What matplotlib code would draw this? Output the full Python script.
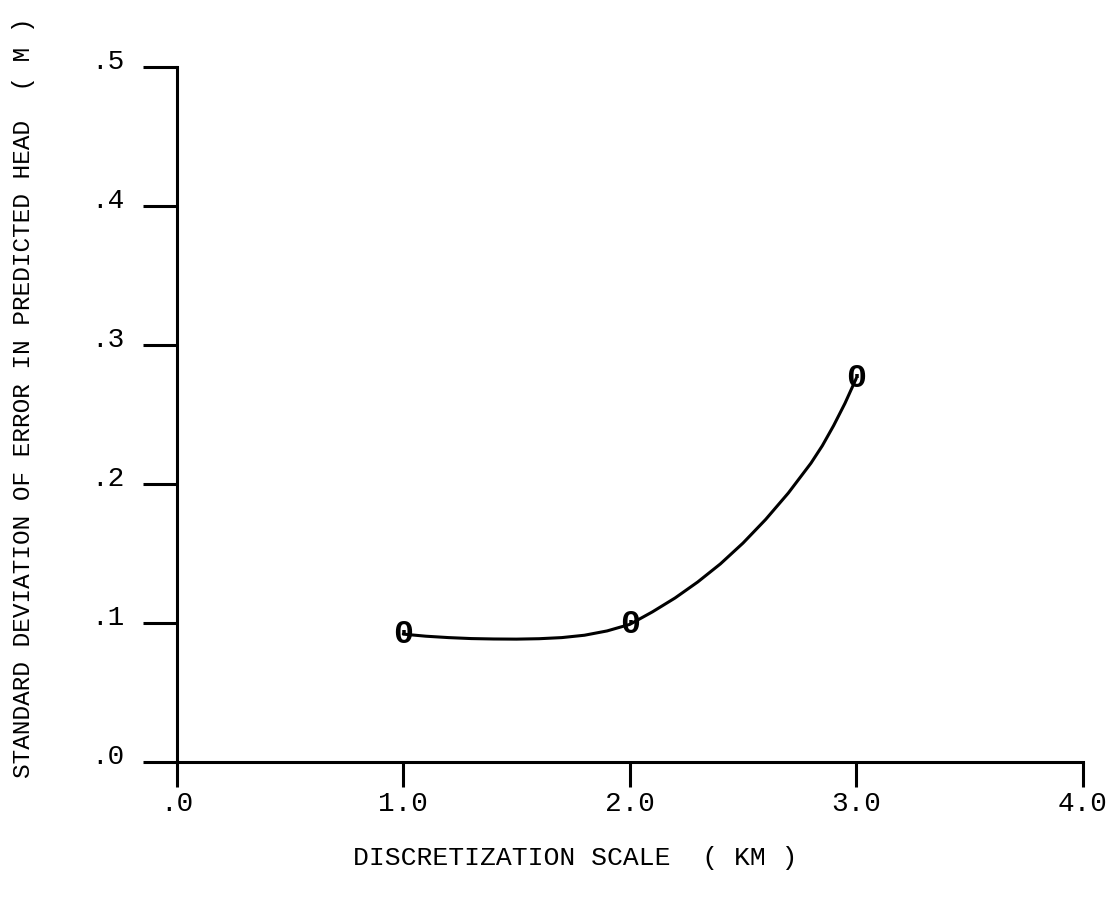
import matplotlib
matplotlib.use("Agg")
import matplotlib.pyplot as plt
import matplotlib.transforms as mtransforms

# discretization scale (km) vs. std. deviation of head error (m)
scale_km = [1.0, 2.0, 3.0]
std_err_m = [0.092, 0.099, 0.276]

# hand-faired curve through the points
curve_x = [1.0, 1.1, 1.2, 1.3, 1.4, 1.5, 1.6, 1.7, 1.8, 1.9, 2.0,
           2.1, 2.2, 2.3, 2.4, 2.5, 2.6, 2.7, 2.8, 2.85, 2.9, 2.95, 3.0]
curve_y = [0.092, 0.0905, 0.0895, 0.0888, 0.0885, 0.0884, 0.0887, 0.0895,
           0.0912, 0.0943, 0.099, 0.1080, 0.1180, 0.1295, 0.1425, 0.1575,
           0.1745, 0.1935, 0.2150, 0.2275, 0.2420, 0.2580, 0.276]

xticks = [0.0, 1.0, 2.0, 3.0, 4.0]
xtick_labels = [".0", "1.0", "2.0", "3.0", "4.0"]
yticks = [0.0, 0.1, 0.2, 0.3, 0.4, 0.5]
ytick_labels = [".0", ".1", ".2", ".3", ".4", ".5"]

FONT = "Liberation Mono"

fig = plt.figure(figsize=(11.06, 8.97), dpi=100)
ax = fig.add_axes([0.1598, 0.1505, 0.8192, 0.7748])

ax.plot(curve_x, curve_y, color="black", lw=2.2, zorder=2,
        solid_joinstyle="round", solid_capstyle="round")
for x, y in zip(scale_km, std_err_m):
    ax.text(x, y, "0", family=FONT, fontsize=24, fontweight="bold",
            ha="center", va="center", color="black", zorder=3)

ax.set_xlim(0, 4)
ax.set_ylim(0, 0.5)

for side in ("top", "right"):
    ax.spines[side].set_visible(False)
for side in ("left", "bottom"):
    ax.spines[side].set_linewidth(2.2)

ax.set_xticks(xticks)
ax.set_xticklabels(xtick_labels, family=FONT, fontsize=20)
ax.set_yticks(yticks)
ax.set_yticklabels(ytick_labels, family=FONT, fontsize=20)
ax.tick_params(axis="x", direction="out", length=18, width=2.2, pad=3)
ax.tick_params(axis="y", direction="out", length=24.5, width=2.2, pad=13)

# typewriter labels sit a little above their tick marks
lift = mtransforms.ScaledTranslation(0, 8 / 100, fig.dpi_scale_trans)
for lbl in ax.get_yticklabels():
    lbl.set_transform(lbl.get_transform() + lift)

fig.text(0.52, 0.043, "DISCRETIZATION SCALE  ( KM )", family=FONT,
         fontsize=19, ha="center", va="center")
fig.text(0.021, 0.557,
         "STANDARD DEVIATION OF ERROR IN PREDICTED HEAD  ( M )",
         family=FONT, fontsize=17.6, rotation=90, ha="center", va="center")

fig.savefig("out.png", dpi=100, facecolor="white")
